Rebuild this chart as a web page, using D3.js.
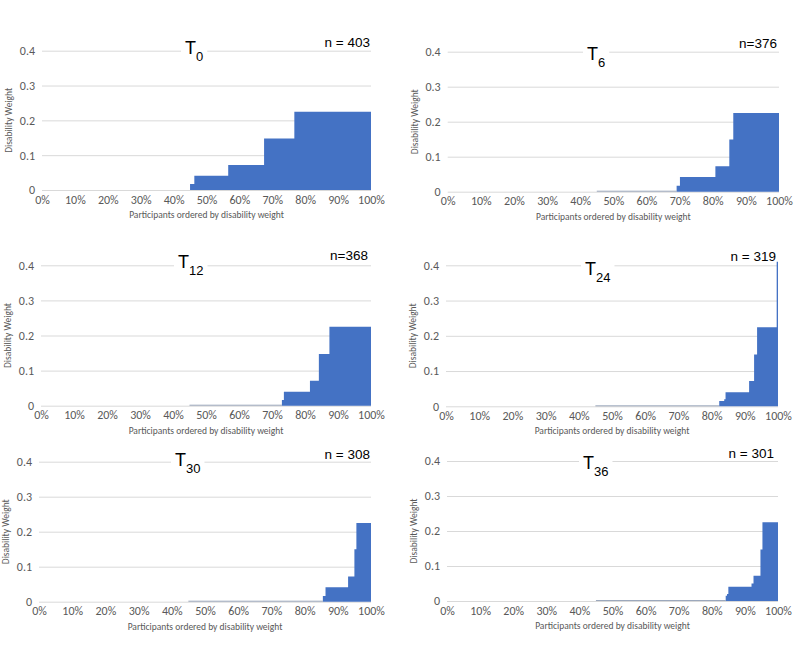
<!DOCTYPE html>
<html>
<head>
<meta charset="utf-8">
<script src="https://cdn.jsdelivr.net/npm/d3@7"></script>
<style>
  html, body { margin: 0; padding: 0; background: #fff; }
  svg { display: block; }
</style>
</head>
<body>
<svg id="chart" width="798" height="646"></svg>
<script>
// ---------------- data ----------------
const panelNames = ["0", "6", "12", "24", "30", "36"];
const sampleSizes = ["n = 403", "n=376", "n=368", "n = 319", "n = 308", "n = 301"];
const xTickLabels = ["0%", "10%", "20%", "30%", "40%", "50%", "60%", "70%", "80%", "90%", "100%"];
const yTickValues = [0, 0.1, 0.2, 0.3, 0.4];
const seriesStart = 0.45;   // participants ordered; series starts at ~45%

// step start (fraction of participants) and disability weight from that point on
const t0Start  = [0.450, 0.463, 0.566, 0.675, 0.767];
const t0Weight = [0.017, 0.041, 0.072, 0.148, 0.225];
const t6Start  = [0.691, 0.701, 0.808, 0.850, 0.862];
const t6Weight = [0.017, 0.042, 0.073, 0.149, 0.225];
const t12Start  = [0.730, 0.736, 0.815, 0.842, 0.874];
const t12Weight = [0.016, 0.040, 0.071, 0.147, 0.225];
const t24Start  = [0.823, 0.838, 0.842, 0.913, 0.928, 0.937, 0.996];
const t24Weight = [0.015, 0.020, 0.040, 0.072, 0.147, 0.224, 0.410];
const t30Start  = [0.855, 0.863, 0.931, 0.950, 0.956];
const t30Weight = [0.016, 0.041, 0.072, 0.150, 0.225];
const t36Start  = [0.842, 0.846, 0.850, 0.920, 0.926, 0.947, 0.953];
const t36Weight = [0.015, 0.020, 0.041, 0.050, 0.072, 0.147, 0.225];

const starts = [t0Start, t6Start, t12Start, t24Start, t30Start, t36Start];
const weights = [t0Weight, t6Weight, t12Weight, t24Weight, t30Weight, t36Weight];

// ---------------- layout ----------------
const layout = [
  {left: 42,    right: 371, top: 50.7,  bottom: 190,   titleX: 185, titleDy: 3,  nDy: -4, nRight: 370},
  {left: 447.7, right: 779, top: 51.7,  bottom: 191.7, titleX: 587, titleDy: 8,  nDy: -4, nRight: 777},
  {left: 41,    right: 371, top: 265.3, bottom: 405.7, titleX: 178, titleDy: 3,  nDy: -5, nRight: 368},
  {left: 446,   right: 778, top: 265.3, bottom: 406.3, titleX: 585, titleDy: 10, nDy: -4, nRight: 776},
  {left: 39,    right: 371, top: 461.7, bottom: 601.7, titleX: 175, titleDy: 4,  nDy: -3, nRight: 370},
  {left: 447,   right: 778, top: 461,   bottom: 601,   titleX: 583, titleDy: 8,  nDy: -3, nRight: 774}
];

const FILL = "#4472C4";
const GRID = "#d9d9d9";
const TICK = "#595959";
const tickFont = "Carlito, Calibri, Lato, 'Liberation Sans', sans-serif";
const titleFont = "'Liberation Sans', Arial, sans-serif";

const svg = d3.select("#chart");

panelNames.forEach((name, i) => {
  const L = layout[i];
  const x = d3.scaleLinear().domain([0, 1]).range([L.left, L.right]);
  const y = d3.scaleLinear().domain([0, 0.4]).range([L.bottom, L.top]);
  const g = svg.append("g");

  // gridlines (y axis)
  const yAxis = d3.axisLeft(y).tickValues(yTickValues)
    .tickSize(-(L.right - L.left)).tickPadding(7)
    .tickFormat(d => d === 0 ? "0" : d3.format(".1f")(d));
  const ya = g.append("g").attr("transform", `translate(${L.left},0)`).call(yAxis);
  ya.select(".domain").remove();
  ya.selectAll(".tick line").attr("stroke", GRID).attr("stroke-width", 1);
  ya.selectAll(".tick text").attr("fill", TICK).style("font-family", tickFont).style("font-size", "12px");

  // step area
  const pts = [[0, 0]];
  starts[i].forEach((s, k) => pts.push([s, weights[i][k]]));
  pts.push([1, weights[i][weights[i].length - 1]]);
  const area = d3.area()
    .x(d => x(d[0])).y0(y(0)).y1(d => y(d[1]))
    .curve(d3.curveStepAfter);
  g.append("path").datum(pts).attr("d", area).attr("fill", FILL);

  // faint series baseline from where the series begins
  g.append("line")
    .attr("x1", x(seriesStart)).attr("x2", x(starts[i][0]))
    .attr("y1", y(0) - 0.5).attr("y2", y(0) - 0.5)
    .attr("stroke", "#5a6e8f").attr("stroke-opacity", 0.6).attr("stroke-width", 1);

  // x axis labels
  const xAxis = d3.axisBottom(x).tickValues(d3.range(11).map(k => k / 10))
    .tickSize(0).tickPadding(5).tickFormat((d, k) => xTickLabels[k]);
  const xa = g.append("g").attr("transform", `translate(0,${L.bottom})`).call(xAxis);
  xa.select(".domain").remove();
  xa.selectAll(".tick text").attr("fill", TICK).style("font-family", tickFont).style("font-size", "12px");

  // axis titles
  g.append("text")
    .attr("x", (L.left + L.right) / 2).attr("y", L.bottom + 28)
    .attr("text-anchor", "middle").attr("fill", TICK)
    .style("font-family", tickFont).style("font-size", "9.5px")
    .text("Participants ordered by disability weight");
  g.append("text")
    .attr("transform", `translate(${L.left - 30},${(L.top + L.bottom) / 2}) rotate(-90)`)
    .attr("text-anchor", "middle").attr("fill", TICK)
    .style("font-family", tickFont).style("font-size", "9.5px")
    .text("Disability Weight");

  // panel title T with subscript, on white box
  const bg = g.append("rect").attr("fill", "#fff");
  const title = g.append("text")
    .attr("x", L.titleX).attr("y", L.top + L.titleDy)
    .attr("fill", "#000").style("font-family", titleFont).style("font-size", "18px");
  title.append("tspan").text("T");
  title.append("tspan").attr("dy", 7).style("font-size", "13px").text(name);
  const bb = title.node().getBBox();
  bg.attr("x", bb.x - 4).attr("y", bb.y).attr("width", bb.width + 8).attr("height", bb.height);

  // n label
  g.append("text")
    .attr("x", L.nRight).attr("y", L.top + L.nDy)
    .attr("text-anchor", "end").attr("fill", "#000")
    .style("font-family", titleFont).style("font-size", "13.5px")
    .text(sampleSizes[i]);
});
</script>
</body>
</html>
